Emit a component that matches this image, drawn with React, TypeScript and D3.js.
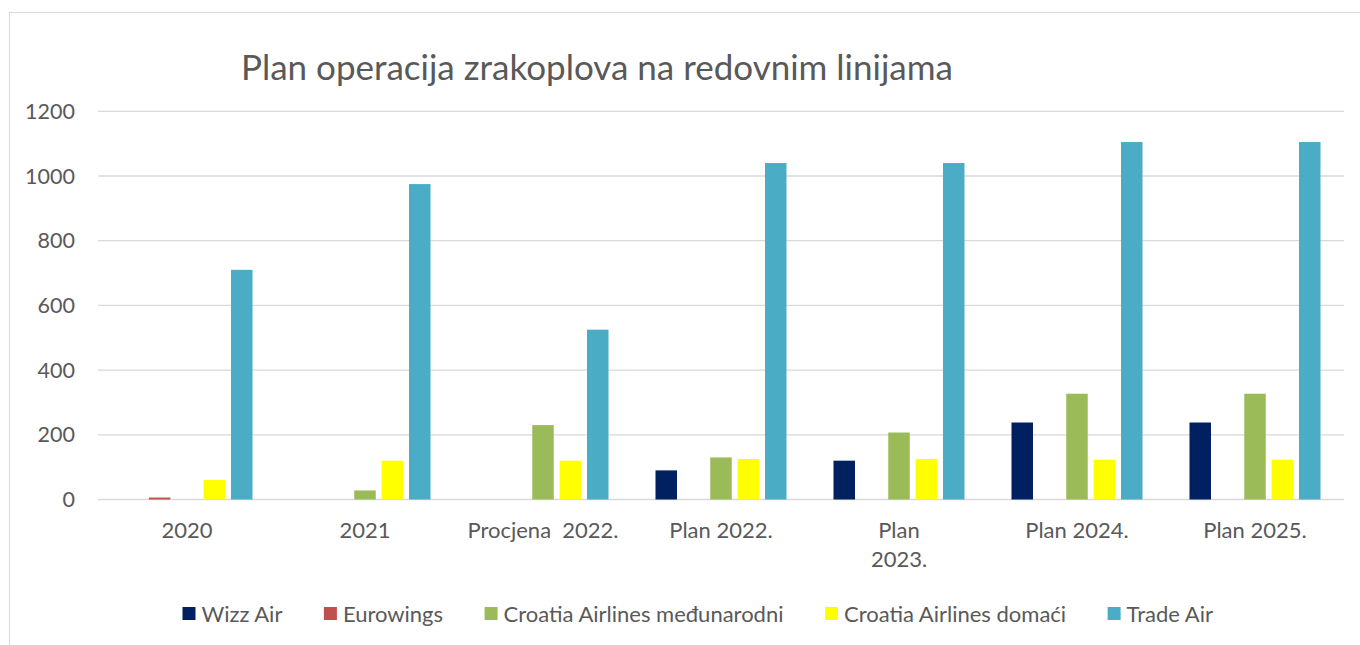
import React, { useEffect, useRef } from 'react'
import * as d3 from 'd3'

const categories = ['2020', '2021', 'Procjena  2022.', 'Plan 2022.', 'Plan\n2023.', 'Plan 2024.', 'Plan 2025.']
const seriesNames = ['Wizz Air', 'Eurowings', 'Croatia Airlines međunarodni', 'Croatia Airlines domaći', 'Trade Air']
const colors = ['#002060', '#C0504D', '#9BBB59', '#FFFF00', '#4BACC6']

const wizzAir = [0, 0, 0, 90, 120, 238, 238]
const eurowings = [6, 0, 0, 0, 0, 0, 0]
const caMedjunarodni = [0, 28, 230, 130, 207, 327, 327]
const caDomaci = [60, 120, 120, 125, 125, 123, 123]
const tradeAir = [710, 975, 525, 1040, 1040, 1105, 1105]

const yTicks = [0, 200, 400, 600, 800, 1000, 1200]

const W = 1360
const H = 645
const FONT = 'Lato, "Open Sans", sans-serif'
const TEXT = '#595959'

export default function App() {
  const ref = useRef<SVGSVGElement>(null)

  useEffect(() => {
    const svg = d3.select(ref.current)
    svg.selectAll('*').remove()

    const series = [wizzAir, eurowings, caMedjunarodni, caDomaci, tradeAir]
    const left = 98, right = 1344, top = 111.3, bottom = 499.5

    // chart frame
    svg.append('rect')
      .attr('x', 9.5).attr('y', 12.5)
      .attr('width', W + 20).attr('height', H + 20)
      .attr('fill', '#fff').attr('stroke', '#D9D9D9').attr('stroke-width', 1)

    const x0 = d3.scaleBand<string>()
      .domain(categories)
      .range([left, right])
      .paddingInner(0.264)
      .paddingOuter(0.132)

    const x1 = d3.scaleBand<string>()
      .domain(seriesNames)
      .range([0, x0.bandwidth()])
      .paddingInner(0.215)

    const y = d3.scaleLinear().domain([0, 1200]).range([bottom, top])

    // gridlines
    svg.append('g').selectAll('line')
      .data(yTicks)
      .enter().append('line')
      .attr('x1', left).attr('x2', right)
      .attr('y1', d => y(d)).attr('y2', d => y(d))
      .attr('stroke', '#D9D9D9').attr('stroke-width', 1.3)

    svg.append('g').selectAll('text')
      .data(yTicks)
      .enter().append('text')
      .attr('x', 75).attr('y', d => y(d))
      .attr('dy', '0.35em')
      .attr('text-anchor', 'end')
      .attr('font-family', FONT).attr('font-size', 21.5)
      .attr('fill', TEXT)
      .text(d => d)

    // bars
    series.forEach((vals, si) => {
      svg.append('g').selectAll('rect')
        .data(vals)
        .enter().append('rect')
        .attr('x', (d, i) => x0(categories[i])! + x1(seriesNames[si])!)
        .attr('width', x1.bandwidth())
        .attr('y', d => y(d))
        .attr('height', d => bottom - y(d))
        .attr('fill', colors[si])
    })

    // category labels
    const cl = svg.append('g')
    categories.forEach(c => {
      const t = cl.append('text')
        .attr('x', x0(c)! + x0.bandwidth() / 2)
        .attr('y', 538)
        .attr('text-anchor', 'middle')
        .attr('font-family', FONT).attr('font-size', 22)
        .attr('fill', TEXT)
        .style('white-space', 'pre')
      c.split('\n').forEach((line, li) => {
        t.append('tspan')
          .attr('x', x0(c)! + x0.bandwidth() / 2)
          .attr('dy', li === 0 ? 0 : 29)
          .text(line)
      })
    })

    // title
    svg.append('text')
      .attr('x', 241).attr('y', 80)
      .attr('font-family', FONT).attr('font-size', 35)
      .attr('fill', TEXT)
      .text('Plan operacija zrakoplova na redovnim linijama')

    // legend
    const lg = svg.append('g')
    let lx = 182.5
    seriesNames.forEach((name, i) => {
      lg.append('rect')
        .attr('x', lx).attr('y', 607)
        .attr('width', 13).attr('height', 13)
        .attr('fill', colors[i])
      const t = lg.append('text')
        .attr('x', lx + 19).attr('y', 621.5)
        .attr('font-family', FONT).attr('font-size', 22)
        .attr('fill', TEXT)
        .text(name)
      const w = (t.node() as SVGTextElement).getComputedTextLength()
      lx += 19 + w + 41.5
    })
  }, [])

  return (
    <svg ref={ref} width={W} height={H}
      style={{ position: 'absolute', left: 0, top: 0, background: '#fff' }} />
  )
}
